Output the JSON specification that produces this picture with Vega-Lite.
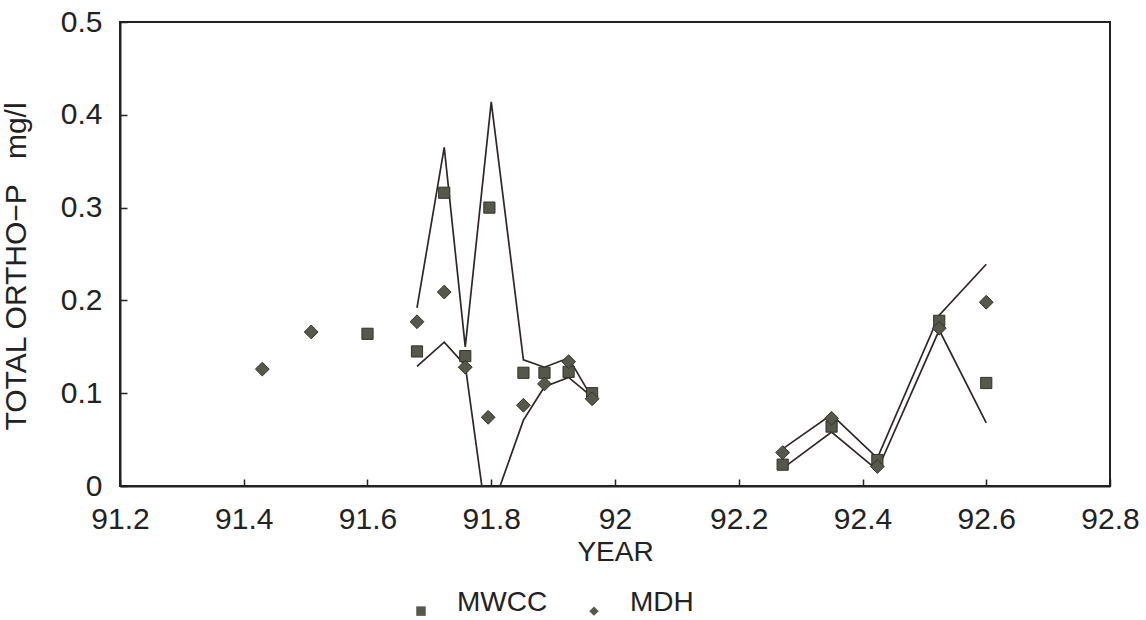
{
  "$schema": "https://vega.github.io/schema/vega-lite/v6.json",
  "width": 990,
  "height": 464,
  "autosize": {"type": "none"},
  "padding": {"left": 120, "top": 22, "right": 36, "bottom": 134},
  "background": "white",
  "config": {
    "font": "Liberation Sans",
    "view": {"stroke": "#222", "strokeWidth": 2},
    "axis": {
      "labelFont": "Liberation Sans", "labelFontSize": 30, "labelColor": "#222", "labelFlush": false,
      "titleFont": "Liberation Sans", "titleFontSize": 28, "titleFontWeight": "normal", "titleColor": "#222",
      "domainColor": "#222", "domainWidth": 2, "tickColor": "#222", "tickWidth": 1.5,
      "grid": false
    },
    "legend": {"labelFont": "Liberation Sans", "labelFontSize": 28, "labelColor": "#222"}
  },
  "datasets": {
    "points": [
      {"year": 91.600, "conc": 0.164, "source": "MWCC"},
      {"year": 91.680, "conc": 0.145, "source": "MWCC"},
      {"year": 91.724, "conc": 0.316, "source": "MWCC"},
      {"year": 91.758, "conc": 0.140, "source": "MWCC"},
      {"year": 91.797, "conc": 0.300, "source": "MWCC"},
      {"year": 91.852, "conc": 0.122, "source": "MWCC"},
      {"year": 91.886, "conc": 0.122, "source": "MWCC"},
      {"year": 91.925, "conc": 0.123, "source": "MWCC"},
      {"year": 91.963, "conc": 0.100, "source": "MWCC"},
      {"year": 92.271, "conc": 0.023, "source": "MWCC"},
      {"year": 92.350, "conc": 0.064, "source": "MWCC"},
      {"year": 92.424, "conc": 0.028, "source": "MWCC"},
      {"year": 92.524, "conc": 0.178, "source": "MWCC"},
      {"year": 92.600, "conc": 0.111, "source": "MWCC"},
      {"year": 91.430, "conc": 0.126, "source": "MDH"},
      {"year": 91.509, "conc": 0.166, "source": "MDH"},
      {"year": 91.680, "conc": 0.177, "source": "MDH"},
      {"year": 91.724, "conc": 0.209, "source": "MDH"},
      {"year": 91.758, "conc": 0.128, "source": "MDH"},
      {"year": 91.795, "conc": 0.074, "source": "MDH"},
      {"year": 91.852, "conc": 0.087, "source": "MDH"},
      {"year": 91.886, "conc": 0.110, "source": "MDH"},
      {"year": 91.925, "conc": 0.134, "source": "MDH"},
      {"year": 91.963, "conc": 0.094, "source": "MDH"},
      {"year": 92.271, "conc": 0.036, "source": "MDH"},
      {"year": 92.350, "conc": 0.073, "source": "MDH"},
      {"year": 92.424, "conc": 0.021, "source": "MDH"},
      {"year": 92.524, "conc": 0.170, "source": "MDH"},
      {"year": 92.600, "conc": 0.198, "source": "MDH"}
    ],
    "lines": [
      {"year": 91.680, "conc": 0.192, "seg": "upper1"},
      {"year": 91.724, "conc": 0.365, "seg": "upper1"},
      {"year": 91.758, "conc": 0.150, "seg": "upper1"},
      {"year": 91.800, "conc": 0.414, "seg": "upper1"},
      {"year": 91.852, "conc": 0.136, "seg": "upper1"},
      {"year": 91.886, "conc": 0.128, "seg": "upper1"},
      {"year": 91.925, "conc": 0.138, "seg": "upper1"},
      {"year": 91.963, "conc": 0.095, "seg": "upper1"},
      {"year": 92.271, "conc": 0.040, "seg": "upper2"},
      {"year": 92.350, "conc": 0.077, "seg": "upper2"},
      {"year": 92.424, "conc": 0.030, "seg": "upper2"},
      {"year": 92.524, "conc": 0.184, "seg": "upper2"},
      {"year": 92.600, "conc": 0.239, "seg": "upper2"},
      {"year": 91.680, "conc": 0.129, "seg": "lower1"},
      {"year": 91.724, "conc": 0.155, "seg": "lower1"},
      {"year": 91.758, "conc": 0.130, "seg": "lower1"},
      {"year": 91.793, "conc": -0.040, "seg": "lower1"},
      {"year": 91.852, "conc": 0.071, "seg": "lower1"},
      {"year": 91.886, "conc": 0.107, "seg": "lower1"},
      {"year": 91.925, "conc": 0.117, "seg": "lower1"},
      {"year": 91.963, "conc": 0.096, "seg": "lower1"},
      {"year": 92.271, "conc": 0.019, "seg": "lower2"},
      {"year": 92.350, "conc": 0.058, "seg": "lower2"},
      {"year": 92.424, "conc": 0.017, "seg": "lower2"},
      {"year": 92.524, "conc": 0.168, "seg": "lower2"},
      {"year": 92.600, "conc": 0.068, "seg": "lower2"}
    ]
  },
  "layer": [
    {
      "data": {"name": "lines"},
      "mark": {"type": "line", "clip": true, "color": "#302626", "strokeWidth": 1.7},
      "encoding": {
        "x": {"field": "year", "type": "quantitative",
              "scale": {"domain": [91.2, 92.8], "nice": false, "zero": false},
              "axis": {"title": "YEAR", "values": [91.2, 91.4, 91.6, 91.8, 92, 92.2, 92.4, 92.6, 92.8],
                       "labelExpr": "format(datum.value, '.1~f')", "tickSize": -7, "labelPadding": 25, "titlePadding": 4}},
        "y": {"field": "conc", "type": "quantitative",
              "scale": {"domain": [0, 0.5], "nice": false},
              "axis": {"title": "TOTAL ORTHO\u2212P\u00a0\u00a0\u00a0mg/l", "titleFontSize": 30, "titleY": 244, "values": [0, 0.1, 0.2, 0.3, 0.4, 0.5],
                       "labelExpr": "datum.value == 0 ? '0' : format(datum.value, '.1f')", "tickSize": -7, "labelPadding": 25, "titlePadding": 29}},
        "detail": {"field": "seg", "type": "nominal"},
        "order": {"field": "year", "type": "quantitative"}
      }
    },
    {
      "data": {"name": "points"},
      "transform": [{"filter": "datum.source == 'MWCC'"}],
      "mark": {"type": "point", "filled": true, "opacity": 1, "stroke": "#333328", "strokeWidth": 1, "size": 125},
      "encoding": {
        "x": {"field": "year", "type": "quantitative"},
        "y": {"field": "conc", "type": "quantitative"},
        "shape": {"field": "source", "type": "nominal",
                  "scale": {"domain": ["MWCC", "MDH"], "range": ["square", "diamond"]},
                  "legend": {"title": null, "orient": "none", "legendX": 287, "legendY": 575, "direction": "horizontal",
                             "symbolSize": 90, "symbolFillColor": "#55584a", "symbolStrokeColor": "#333328",
                             "labelOffset": 22, "columnPadding": 32, "labelBaseline": "alphabetic"}},
        "color": {"value": "#55584a"}
      }
    },
    {
      "data": {"name": "points"},
      "transform": [{"filter": "datum.source == 'MDH'"}],
      "mark": {"type": "point", "filled": true, "opacity": 1, "stroke": "#333328", "strokeWidth": 1, "size": 190},
      "encoding": {
        "x": {"field": "year", "type": "quantitative"},
        "y": {"field": "conc", "type": "quantitative"},
        "shape": {"field": "source", "type": "nominal"},
        "color": {"value": "#55584a"}
      }
    }
  ]
}
